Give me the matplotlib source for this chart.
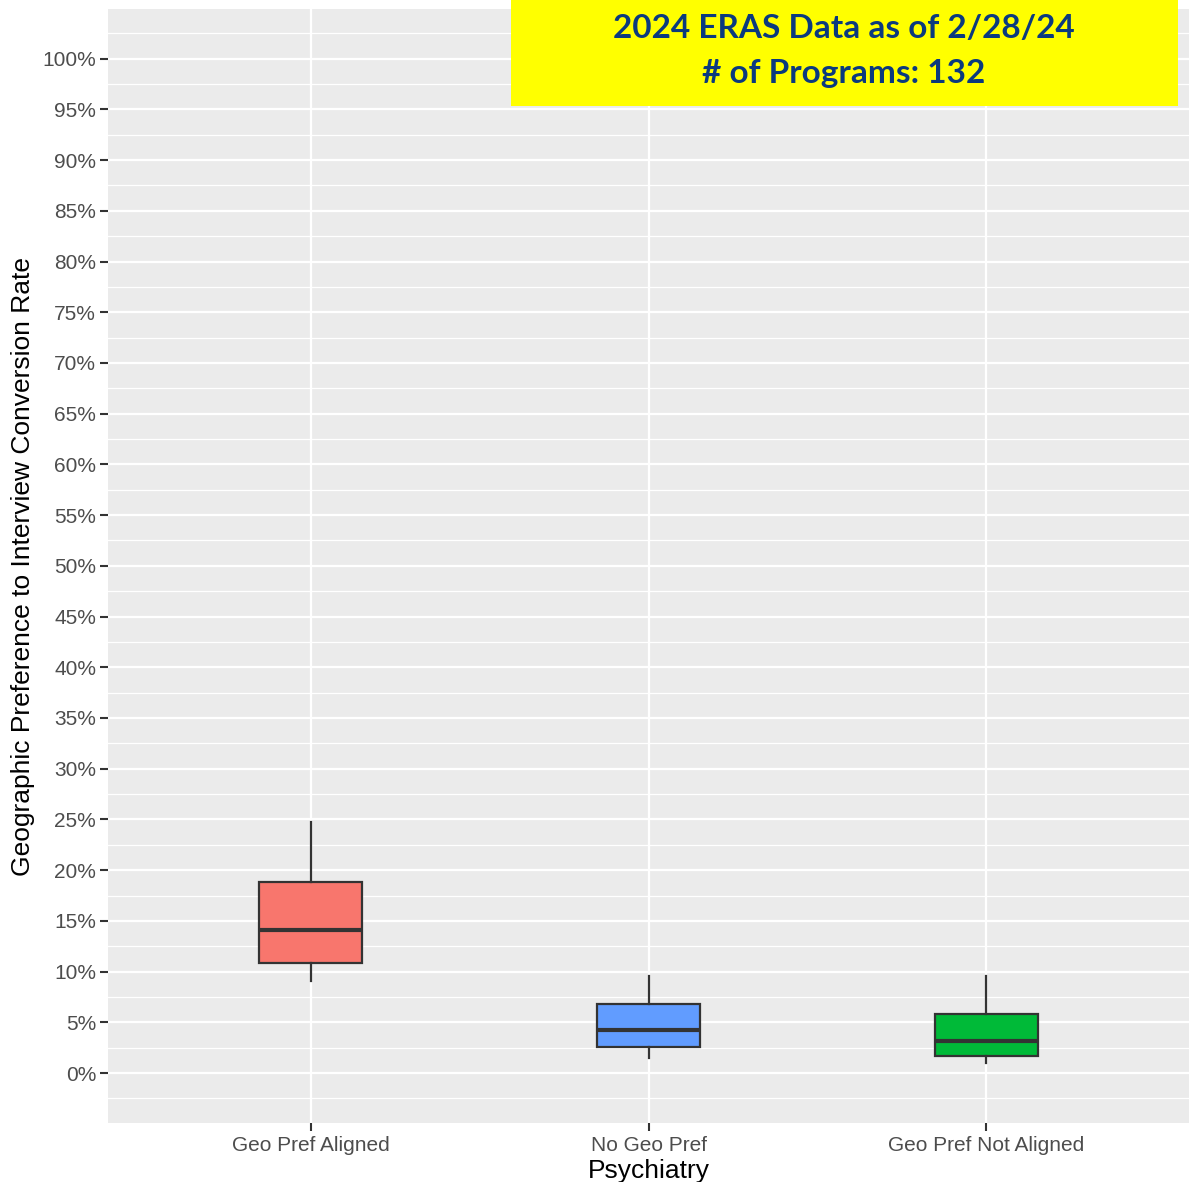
import matplotlib.pyplot as plt
from matplotlib.patches import Rectangle
from matplotlib.ticker import MultipleLocator, FuncFormatter

# Interview conversion rate (%) by geographic preference, Psychiatry
groups = ['Geo Pref Aligned', 'No Geo Pref', 'Geo Pref Not Aligned']
whisker_low = [9.07, 1.45, 1.02]
q1 = [10.82, 2.60, 1.71]
median = [14.10, 4.27, 3.19]
q3 = [18.87, 6.77, 5.79]
whisker_high = [24.72, 9.57, 9.57]
fills = ['#F8766D', '#619CFF', '#00BA38']

title_lines = ['2024 ERAS Data as of 2/28/24', '# of Programs: 132']

plt.rcParams['font.family'] = ['Liberation Sans', 'DejaVu Sans']

fig = plt.figure(figsize=(11.92, 11.82), dpi=100)
ax = fig.add_axes([0.0906, 0.0499, 0.9069, 0.9425])
ax.set_facecolor('#EBEBEB')

stats = []
for i, g in enumerate(groups):
    stats.append(dict(label=g, whislo=whisker_low[i], q1=q1[i], med=median[i],
                      q3=q3[i], whishi=whisker_high[i], fliers=[]))

pos = list(range(1, len(groups) + 1))
edge = '#333333'
res = ax.bxp(stats, positions=pos, widths=0.305, patch_artist=True,
             showcaps=False,
             boxprops=dict(edgecolor=edge, linewidth=1.6),
             whiskerprops=dict(color=edge, linewidth=1.6),
             medianprops=dict(color=edge, linewidth=3.0, solid_capstyle='butt'),
             zorder=3)
for patch, c in zip(res['boxes'], fills):
    patch.set_facecolor(c)

ax.set_xlim(0.4, 3.6)
ax.set_ylim(-4.93, 104.9)
ax.yaxis.set_major_locator(MultipleLocator(5))
ax.yaxis.set_minor_locator(MultipleLocator(2.5))
ax.yaxis.set_major_formatter(FuncFormatter(lambda v, p: f'{v:.0f}%'))
ax.set_xticks(pos)
ax.set_xticklabels(groups)

ax.grid(True, which='major', color='white', linewidth=1.6, zorder=0)
ax.grid(True, which='minor', axis='y', color='white', linewidth=0.9, zorder=0)
ax.set_axisbelow(True)
for s in ax.spines.values():
    s.set_visible(False)

ax.tick_params(axis='both', which='major', length=5.5, width=1.5,
               color='#333333', labelcolor='#4D4D4D', labelsize=15, pad=3)
ax.tick_params(axis='x', which='major', pad=4)
ax.tick_params(axis='y', which='minor', length=0)

ax.set_xlabel('Psychiatry', fontsize=19, color='black', labelpad=3)
ax.set_ylabel('Geographic Preference to Interview Conversion Rate',
              fontsize=19, color='black', labelpad=5)

# yellow banner in the top right corner
fig.patches.append(Rectangle((511 / 1192, 1 - 106 / 1182), 667 / 1192, 106 / 1182,
                             transform=fig.transFigure, facecolor='#FFFF00',
                             edgecolor='none', zorder=5))
for k, line in enumerate(title_lines):
    fig.text(844 / 1192, 1 - (29 + 45 * k) / 1182, line, ha='center', va='center',
             fontsize=24, fontweight='bold', color='#0B3A7E',
             family=['Lato', 'DejaVu Sans'], zorder=6)

fig.savefig('out.png', dpi=100)
